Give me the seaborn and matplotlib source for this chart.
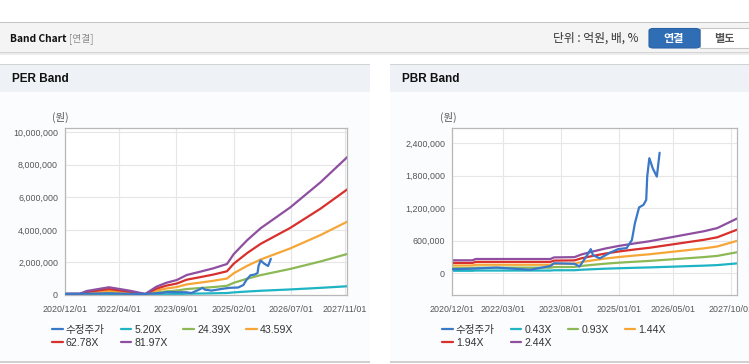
import matplotlib.pyplot as plt
import matplotlib.patches as mpatches
from matplotlib.ticker import FuncFormatter
import seaborn as sns
import pandas as pd

W, H = 749, 364

# 수정주가 (천원)
price_dates = ["2020-12-01", "2021-06-01", "2022-01-01", "2022-11-01", "2023-05-01",
               "2023-06-01", "2023-12-01", "2024-01-15", "2024-03-15", "2024-04-25",
               "2024-05-15", "2024-07-15", "2024-10-15", "2024-12-25", "2025-03-12",
               "2025-04-28", "2025-05-25", "2025-07-01", "2025-08-10", "2025-09-03",
               "2025-09-12", "2025-10-01", "2025-11-01", "2025-12-07", "2026-01-01"]
price = [70, 80, 100, 60, 130, 180, 170, 120, 300, 440, 330, 270, 375, 440, 460,
         610, 920, 1210, 1260, 1350, 1780, 2120, 1930, 1780, 2220]

# EPS (천원)
eps_dates = ["2020-12-01", "2021-04-15", "2021-06-15", "2022-01-01", "2022-07-10",
             "2022-11-25", "2023-03-05", "2023-06-05", "2023-09-05", "2023-12-05",
             "2024-04-01", "2024-08-01", "2024-12-01", "2025-02-01", "2025-06-01",
             "2025-10-01", "2026-06-25", "2027-03-25", "2027-12-01"]
eps = [1.0, 1.0, 3.0, 5.8, 3.2, 0.8, 6.2, 9.2, 11.2, 15.0,
       17.4, 20.0, 23.2, 30.7, 41.0, 50.0, 65.6, 84.4, 104.0]
per_multiples = [5.20, 24.39, 43.59, 62.78, 81.97]

# BPS (천원)
bps_dates = ["2020-12-01", "2021-06-01", "2021-07-01", "2023-05-01", "2023-06-01",
             "2023-12-01", "2024-02-01", "2024-05-01", "2024-09-01", "2025-01-01",
             "2025-06-01", "2025-10-01", "2026-05-01", "2027-02-01", "2027-06-01",
             "2027-12-01"]
bps = [96, 96, 106, 106, 118, 120, 140, 160, 185, 205, 225, 240, 273, 316, 340, 415]
pbr_multiples = [0.43, 0.93, 1.44, 1.94, 2.44]

per_ticks = ["2020-12-01", "2022-04-01", "2023-09-01", "2025-02-01", "2026-07-01", "2027-11-01"]
pbr_ticks = ["2020-12-01", "2022-03-01", "2023-08-01", "2025-01-01", "2026-05-01", "2027-10-01"]
per_yticks = [0, 2000000, 4000000, 6000000, 8000000, 10000000]
pbr_yticks = [0, 600000, 1200000, 1800000, 2400000]

colors = ["#3a78c8", "#1fb4c4", "#8db856", "#f6a636", "#d7302d", "#8e4fa0"]

sns.set_style("white")
plt.rcParams['font.family'] = ['Liberation Sans', 'Noto Sans CJK KR']
KR = ['Noto Sans CJK KR', 'Liberation Sans']


def band_frame(dates, base, mults):
    parts = [pd.DataFrame({"date": pd.to_datetime(price_dates),
                           "value": [p * 1000 for p in price],
                           "series": "수정주가"})]
    for m in mults:
        parts.append(pd.DataFrame({"date": pd.to_datetime(dates),
                                   "value": [b * m * 1000 for b in base],
                                   "series": f"{m:.2f}X"}))
    return pd.concat(parts, ignore_index=True)


def px_rect(x, y, w, h):
    return [x / W, 1 - (y + h) / H, w / W, h / H]


def fig_rect(fig, x, y, w, h, **kw):
    r = mpatches.Rectangle((x / W, 1 - (y + h) / H), w / W, h / H,
                           transform=fig.transFigure, zorder=-5, **kw)
    fig.patches.append(r)


def fig_text(fig, x, y, s, **kw):
    fig.text(x / W, 1 - y / H, s, **kw)


fig = plt.figure(figsize=(W / 100, H / 100), dpi=100)
fig.patch.set_facecolor("white")

# header bar
fig_rect(fig, 0, 22, W, 30, facecolor="#f4f4f4", edgecolor="none")
fig_rect(fig, 0, 22, W, 1, facecolor="#c4c4c4", edgecolor="none")
fig_rect(fig, 0, 52, W, 1, facecolor="#d4d4d4", edgecolor="none")
fig_rect(fig, 0, 53, W, 2, facecolor="#ececec", edgecolor="none")
fig_text(fig, 10, 38.5, "Band Chart", family=KR,
         fontsize=7.4, fontweight="bold", color="#111111", va="center")
fig_text(fig, 69, 38.5, "[연결]", family=KR, fontsize=7, color="#8a8a8a", va="center")
fig_text(fig, 553, 38.5, "단위 : 억원, 배, %", family=KR, fontsize=8.5, color="#333333", va="center")
btn = mpatches.FancyBboxPatch((649 / W, 1 - 48 / H), 51 / W, 19.5 / H,
                              boxstyle="round,pad=0,rounding_size=0.006",
                              transform=fig.transFigure, facecolor="#2f6db5",
                              edgecolor="#2a62a5", lw=0.8, zorder=-4)
fig.patches.append(btn)
fig_rect(fig, 700, 28.5, 52, 19.5, facecolor="white", edgecolor="#c8c8c8", lw=0.8)
fig_text(fig, 674, 38.5, "연결", family=KR, fontsize=8, fontweight="bold",
         color="white", ha="center", va="center")
fig_text(fig, 724, 38.5, "별도", family=KR, fontsize=8, fontweight="bold",
         color="#555555", ha="center", va="center")

panels = [
    dict(x0=0, x1=370, title="PER Band", ax=[65, 128, 282, 167],
         dates=eps_dates, base=eps, mults=per_multiples, ticks=per_ticks,
         yticks=per_yticks, ylim=(0, 10250000), xlim=("2020-12-01", "2027-11-19"),
         unit_x=60, leg_x=52),
    dict(x0=390, x1=W, title="PBR Band", ax=[452, 128, 285, 167],
         dates=bps_dates, base=bps, mults=pbr_multiples, ticks=pbr_ticks,
         yticks=pbr_yticks, ylim=(-406000, 2677000), xlim=("2020-12-01", "2027-11-24"),
         unit_x=448, leg_x=442),
]

for p in panels:
    x0, x1 = p["x0"], p["x1"]
    fig_rect(fig, x0, 64, x1 - x0, 298, facecolor="#fbfcfd", edgecolor="none")
    fig_rect(fig, x0, 64, x1 - x0, 28, facecolor="#eef2f7", edgecolor="none")
    fig_rect(fig, x0, 63.5, x1 - x0, 1, facecolor="#d2d2d2", edgecolor="none")
    fig_rect(fig, x0, 361, x1 - x0, 1.5, facecolor="#d0d0d0", edgecolor="none")
    fig_text(fig, x0 + 12, 78.5, p["title"], fontsize=8.5, fontweight="bold",
             color="#111111", va="center")
    fig_text(fig, p["unit_x"], 117, "(원)", family=KR, fontsize=7.5,
             color="#555555", ha="center", va="center")

    ax = fig.add_axes(px_rect(*p["ax"]))
    ax.set_facecolor("white")
    df = band_frame(p["dates"], p["base"], p["mults"])
    order = ["수정주가"] + [f"{m:.2f}X" for m in p["mults"]]
    sns.lineplot(data=df, x="date", y="value", hue="series", hue_order=order,
                 palette=colors, estimator=None, linewidth=1.6, ax=ax)
    ax.lines[0].set_zorder(3)

    ax.set_xlim(pd.Timestamp(p["xlim"][0]), pd.Timestamp(p["xlim"][1]))
    ax.set_ylim(*p["ylim"])
    ax.set_xticks(pd.to_datetime(p["ticks"]))
    ax.set_xticklabels([t.replace("-", "/") for t in p["ticks"]])
    ax.set_yticks(p["yticks"])
    ax.yaxis.set_major_formatter(FuncFormatter(lambda v, _: f"{v:,.0f}"))
    ax.grid(True, color="#e6e6e6", linewidth=0.8)
    ax.set_axisbelow(True)
    for s in ax.spines.values():
        s.set_color("#b8b8b8")
        s.set_linewidth(0.9)
    ax.tick_params(axis="both", colors="#b8b8b8", labelcolor="#555555",
                   labelsize=6.4, length=3, width=0.8, pad=2)
    ax.tick_params(axis="x", pad=4)
    ax.set_xlabel("")
    ax.set_ylabel("")

    handles, labels = ax.get_legend_handles_labels()
    idx = [0, 4, 1, 5, 2, 3]
    ax.legend([handles[i] for i in idx], [labels[i] for i in idx], ncol=4,
              loc="upper left", bbox_to_anchor=(p["leg_x"] / W, 1 - 325 / H),
              bbox_transform=fig.transFigure, frameon=False, fontsize=7.6,
              handlelength=1.0, handletextpad=0.3, columnspacing=1.5,
              labelspacing=0.3, borderpad=0, borderaxespad=0, labelcolor="#333333")

fig.savefig("out.png", dpi=100)
